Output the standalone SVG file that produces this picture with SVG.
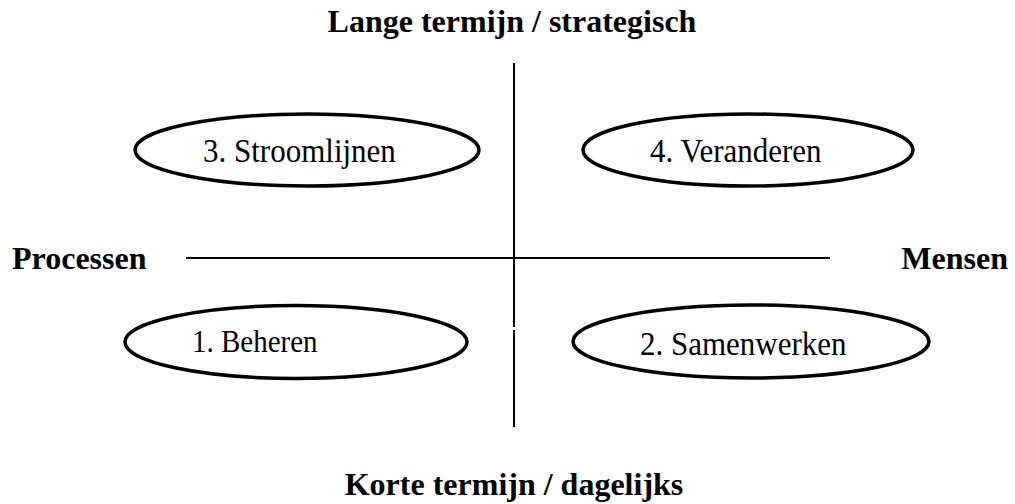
<svg xmlns="http://www.w3.org/2000/svg" width="1015" height="504" viewBox="0 0 1015 504">
  <style>
    .axis-label { font-family: "Liberation Serif", "Times New Roman", serif; font-weight: bold; font-size: 32px; fill: #000; }
    .quad { fill: #fff; stroke: #000; stroke-width: 3.5; }
    .quad-label { font-family: "Liberation Serif", "Times New Roman", serif; font-size: 31px; fill: #000; }
    .axis { stroke: #000; stroke-width: 2; fill: none; }
  </style>
  <rect width="1015" height="504" fill="#fff"/>

  <!-- axis captions -->
  <text class="axis-label" x="512" y="32" text-anchor="middle">Lange termijn / strategisch</text>
  <text class="axis-label" x="514" y="495" text-anchor="middle">Korte termijn / dagelijks</text>
  <text class="axis-label" x="12" y="269">Processen</text>
  <text class="axis-label" x="1008" y="269" text-anchor="end">Mensen</text>

  <!-- axes -->
  <g id="connectors">
    <line class="axis" x1="186" y1="258" x2="830" y2="258"/>
    <line class="axis" x1="514" y1="63" x2="514" y2="327"/>
    <line class="axis" x1="514" y1="330" x2="514" y2="427"/>
  </g>

  <!-- quadrants (labels slightly condensed: taller than wide) -->
  <g id="q3">
    <ellipse class="quad" cx="307" cy="150" rx="172" ry="36"/>
    <text class="quad-label" transform="translate(203 162) scale(1 1.12)">3. Stroomlijnen</text>
  </g>
  <g id="q4">
    <ellipse class="quad" cx="748" cy="150" rx="165" ry="36"/>
    <text class="quad-label" transform="translate(650 162) scale(1 1.12)">4. Veranderen</text>
  </g>
  <g id="q1">
    <ellipse class="quad" cx="296" cy="342" rx="171" ry="36.5"/>
    <text class="quad-label" style="font-size:29px" transform="translate(192 352) scale(1 1.12)">1. Beheren</text>
  </g>
  <g id="q2">
    <ellipse class="quad" cx="751" cy="341.5" rx="178" ry="36.5"/>
    <text class="quad-label" transform="translate(640 355) scale(1 1.12)">2. Samenwerken</text>
  </g>
</svg>
